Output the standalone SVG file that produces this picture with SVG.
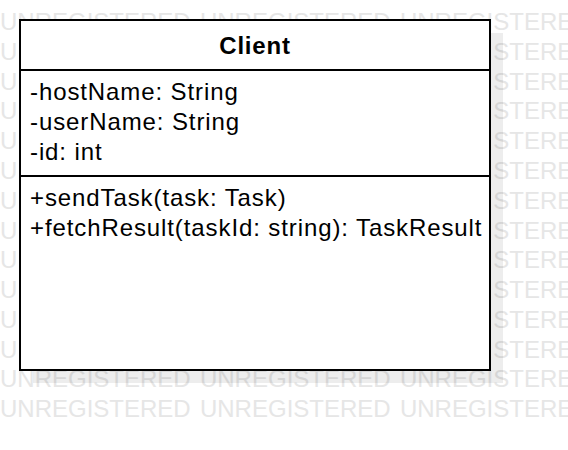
<svg xmlns="http://www.w3.org/2000/svg" width="568" height="450" viewBox="0 0 568 450">
  <style>
    .wm { font-family: "Liberation Sans", Arial, sans-serif; font-size: 24px; fill: #e6e6e6; word-spacing: 2.6px; }
    .box { fill: #ffffff; stroke: #000000; stroke-width: 2; }
    .shadow { fill: #000000; fill-opacity: 0.07; }
    .div { stroke: #000000; stroke-width: 2; }
    .title { font-family: "Liberation Sans", Arial, sans-serif; font-size: 24px; font-weight: bold; fill: #000; letter-spacing: 0.8px; }
    .member { font-family: "Liberation Sans", Arial, sans-serif; font-size: 24px; fill: #000; letter-spacing: 0.9px; }
  </style>
  <rect x="0" y="0" width="568" height="450" fill="#ffffff"/>
  <g id="watermark">
    <text class="wm" x="0" y="0.3">UNREGISTERED UNREGISTERED UNREGISTERED</text>
    <text class="wm" x="0" y="30.1">UNREGISTERED UNREGISTERED UNREGISTERED</text>
    <text class="wm" x="0" y="59.8">U</text><text class="wm" x="493.3" y="59.8">STERED</text>
    <text class="wm" x="0" y="89.6">U</text><text class="wm" x="493.3" y="89.6">STERED</text>
    <text class="wm" x="0" y="119.4">U</text><text class="wm" x="493.3" y="119.4">STERED</text>
    <text class="wm" x="0" y="149.2">U</text><text class="wm" x="493.3" y="149.2">STERED</text>
    <text class="wm" x="0" y="178.9">U</text><text class="wm" x="493.3" y="178.9">STERED</text>
    <text class="wm" x="0" y="208.7">U</text><text class="wm" x="493.3" y="208.7">STERED</text>
    <text class="wm" x="0" y="238.5">U</text><text class="wm" x="493.3" y="238.5">STERED</text>
    <text class="wm" x="0" y="268.2">U</text><text class="wm" x="493.3" y="268.2">STERED</text>
    <text class="wm" x="0" y="298.0">U</text><text class="wm" x="493.3" y="298.0">STERED</text>
    <text class="wm" x="0" y="327.8">U</text><text class="wm" x="493.3" y="327.8">STERED</text>
    <text class="wm" x="0" y="357.5">U</text><text class="wm" x="493.3" y="357.5">STERED</text>
    <text class="wm" x="0" y="387.3">UNREGISTERED UNREGISTERED UNREGISTERED</text>
    <text class="wm" x="0" y="417.1">UNREGISTERED UNREGISTERED UNREGISTERED</text>
  </g>
  <g id="client">
    <rect class="shadow" x="33" y="33" width="470" height="350"/>
    <rect class="box" x="20" y="20" width="470" height="350"/>
    <line class="div" x1="20" y1="70" x2="490" y2="70"/>
    <line class="div" x1="20" y1="176" x2="490" y2="176"/>
    <text class="title" x="255" y="54" text-anchor="middle">Client</text>
    <text class="member" x="30" y="99.5">-hostName: String</text>
    <text class="member" x="30" y="129.5">-userName: String</text>
    <text class="member" x="30" y="159.5">-id: int</text>
    <text class="member" x="30" y="206">+sendTask(task: Task)</text>
    <text class="member" x="30" y="236">+fetchResult(taskId: string): TaskResult</text>
  </g>
  <g id="connectors"/>
</svg>
